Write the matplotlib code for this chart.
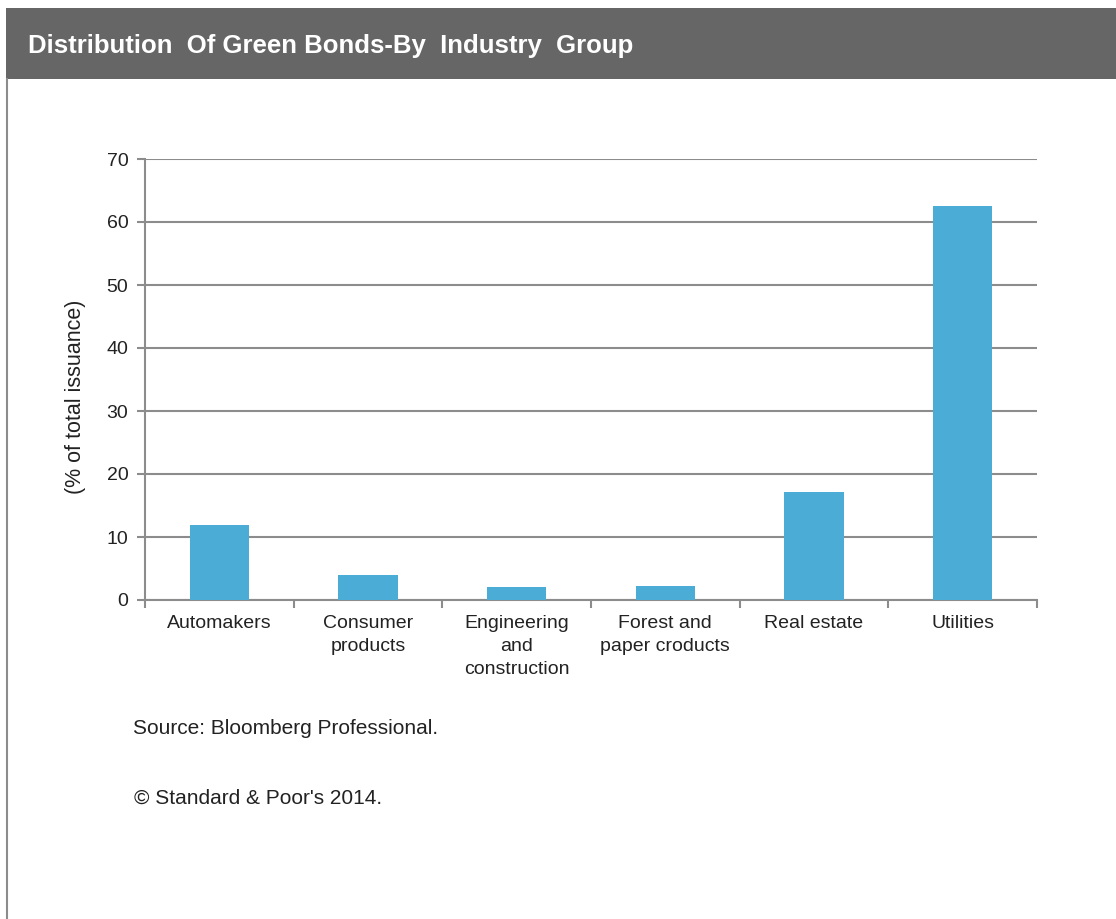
import matplotlib
matplotlib.use("Agg")
import numpy as np
import matplotlib.pyplot as plt
from matplotlib.patches import Rectangle
from matplotlib.lines import Line2D

plt.rcParams['font.family'] = ['Liberation Sans', 'DejaVu Sans']

# data
categories = ["Automakers", "Consumer\nproducts", "Engineering\nand\nconstruction",
              "Forest and\npaper croducts", "Real estate", "Utilities"]
share = [11.9, 4.0, 2.1, 2.3, 17.2, 62.5]
yticks = [0, 10, 20, 30, 40, 50, 60, 70]

title = "Distribution  Of Green Bonds-By  Industry  Group"
source = "Source: Bloomberg Professional."
copyright_note = "\u00a9 Standard & Poor's 2014."

W, H = 1116, 919
fig = plt.figure(figsize=(W / 100, H / 100), dpi=100)
fig.patch.set_facecolor("white")

# header band and left frame line
fig.patches.append(Rectangle((6 / W, 1 - 79 / H), 1 - 6 / W, 71 / H,
                             transform=fig.transFigure, facecolor="#666666",
                             edgecolor="none", zorder=0))
fig.lines.append(Line2D([7 / W, 7 / W], [0, 1 - 79 / H], transform=fig.transFigure,
                        color="#8c8c8c", lw=1.5))
fig.text(28 / W, 1 - 46 / H, title, color="white", fontsize=18.5, fontweight="bold",
         va="center", ha="left")

ax = fig.add_axes([145 / W, 1 - 600 / H, (1037 - 145) / W, (600 - 159) / H])
x = np.arange(len(categories))
ax.bar(x, share, width=0.4, color="#4bacd6", zorder=3)

ax.set_xlim(-0.5, len(categories) - 0.5)
ax.set_ylim(0, 70)
ax.set_yticks(yticks)
ax.set_yticklabels([str(v) for v in yticks], fontsize=14, color="#222222")
ax.set_xticks(x)
ax.set_xticklabels(categories, fontsize=14, color="#222222", linespacing=1.45, va="top")
ax.set_xticks(np.arange(-0.5, len(categories)), minor=True)
ax.tick_params(axis="x", which="major", length=0, pad=11)
ax.tick_params(axis="x", which="minor", length=6, width=1.5, color="#8c8c8c", direction="out")
ax.tick_params(axis="y", length=6, width=1.5, color="#8c8c8c", pad=6)

ax.grid(axis="y", color="#8c8c8c", lw=1.5, zorder=1)
for side in ["top", "right"]:
    ax.spines[side].set_visible(False)
for side in ["left", "bottom"]:
    ax.spines[side].set_color("#8c8c8c")
    ax.spines[side].set_linewidth(1.5)

ax.set_ylabel("(% of total issuance)", fontsize=15.5, color="#222222")
ax.yaxis.set_label_coords(-0.066, 0.46)

fig.text(133 / W, 1 - 728 / H, source, fontsize=15, color="#222222", va="center")
fig.text(134 / W, 1 - 798 / H, copyright_note, fontsize=15, color="#222222", va="center")

fig.savefig("out.png", dpi=100)
